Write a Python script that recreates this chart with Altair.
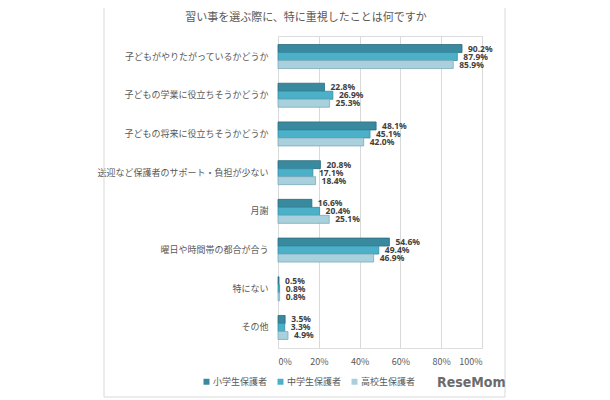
import altair as alt
import pandas as pd

categories = [
    "子どもがやりたがっているかどうか",
    "子どもの学業に役立ちそうかどうか",
    "子どもの将来に役立ちそうかどうか",
    "送迎など保護者のサポート・負担が少ない",
    "月謝",
    "曜日や時間帯の都合が合う",
    "特にない",
    "その他",
]
series = ["小学生保護者", "中学生保護者", "高校生保護者"]
elementary = [90.2, 22.8, 48.1, 20.8, 16.6, 54.6, 0.5, 3.5]
junior = [87.9, 26.9, 45.1, 17.1, 20.4, 49.4, 0.8, 3.3]
high = [85.9, 25.3, 42.0, 18.4, 25.1, 46.9, 0.8, 4.9]
colors = ["#3a8a9f", "#4bb0c8", "#a8d0dd"]
strokes = ["#2b6b7c", "#348ea4", "#7fabb9"]

rows = []
for vals, s in zip([elementary, junior, high], series):
    for c, v in zip(categories, vals):
        rows.append({"category": c, "series": s, "value": v, "label": f"{v:.1f}%"})
df = pd.DataFrame(rows)

FONT = "Noto Sans CJK JP"

y = alt.Y("category:N", sort=categories, title=None,
          scale=alt.Scale(paddingInner=0.38, paddingOuter=0.22),
          axis=alt.Axis(labelFont=FONT, labelFontSize=9, labelColor="#595959",
                        ticks=False, domain=False, labelPadding=10, labelLimit=300))
x = alt.X("value:Q", title=None,
          scale=alt.Scale(domain=[0, 100]),
          axis=alt.Axis(values=[0, 20, 40, 60, 80, 100], labelExpr="datum.value + '%'",
                        labelFont=FONT, labelFontSize=9, labelColor="#595959",
                        ticks=False, domain=False, gridColor="#d9d9d9", labelPadding=9))
yoff = alt.YOffset("series:N", sort=series)

bars = alt.Chart(df).mark_bar(strokeWidth=0.8).encode(
    x=x, y=y, yOffset=yoff,
    color=alt.Color("series:N", sort=series,
                    scale=alt.Scale(domain=series, range=colors),
                    legend=alt.Legend(title=None, orient="none", direction="horizontal",
                                      legendX=-76, legendY=341, symbolType="square",
                                      symbolSize=36, symbolStrokeWidth=0,
                                      labelFont=FONT, labelFontSize=9, labelColor="#595959",
                                      columnPadding=8, labelOffset=2)),
    stroke=alt.Stroke("series:N", sort=series,
                      scale=alt.Scale(domain=series, range=strokes), legend=None),
)

labels = alt.Chart(df).mark_text(align="left", baseline="middle", dx=6,
                                 font="Noto Sans", fontSize=8.5, fontWeight="bold",
                                 color="#404040").encode(
    x=alt.X("value:Q", title=None),
    y=alt.Y("category:N", sort=categories, title=None),
    yOffset=yoff, text="label:N")

frame = alt.Chart(pd.DataFrame({"a": [0]})).mark_rect(
    fill="white", fillOpacity=0, stroke="#d9d9d9", strokeWidth=1).encode(
    x=alt.value(-174), x2=alt.value(227), y=alt.value(-35), y2=alt.value(361))

title = alt.Chart(pd.DataFrame({"t": ["習い事を選ぶ際に、特に重視したことは何ですか"]})).mark_text(
    font=FONT, fontSize=11, color="#595959", align="center", baseline="middle").encode(
    x=alt.value(28), y=alt.value(-18), text="t:N")

logo = alt.Chart(pd.DataFrame({"t": ["ReseMom"]})).mark_text(
    font="DejaVu Sans Condensed, Liberation Sans Narrow, Liberation Sans", fontSize=14,
    fontWeight="bold", color="#6b6b6b",
    align="left", baseline="middle").encode(
    x=alt.value(159), y=alt.value(347), text="t:N")

chart = alt.layer(frame, bars, labels, title, logo).properties(
    width=204, height=312,
    autosize=alt.AutoSizeParams(type="none"),
    padding={"left": 270, "top": 28, "right": 110, "bottom": 52},
).resolve_scale(color="independent").configure_view(stroke=None).configure(background="white")

chart.save("out.html", embed_options={"renderer": "svg", "actions": False})
